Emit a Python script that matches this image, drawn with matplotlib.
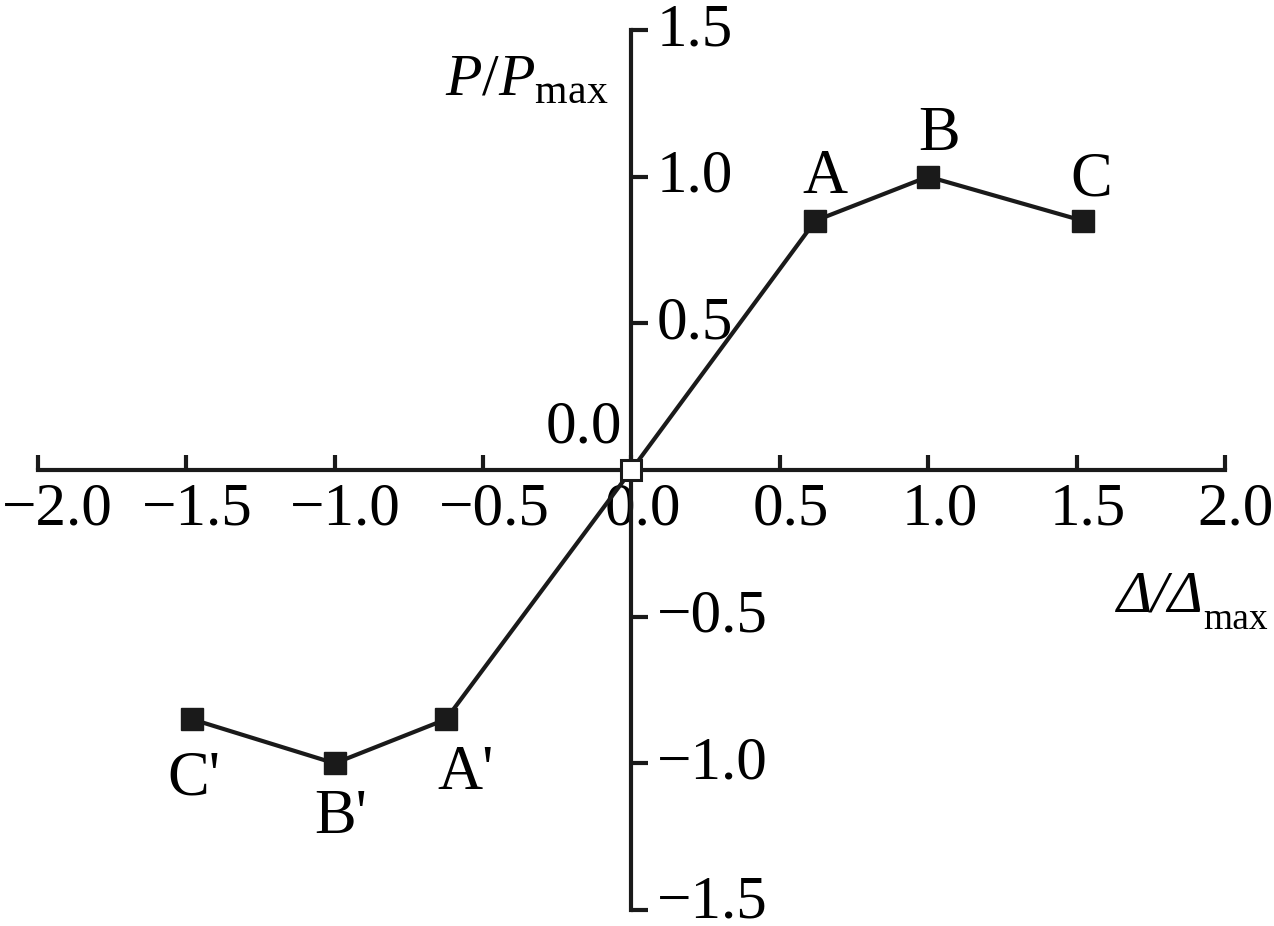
import matplotlib
matplotlib.use("Agg")
import matplotlib.pyplot as plt
from matplotlib.transforms import ScaledTranslation

plt.rcParams.update({
    "font.family": "serif", "font.serif": ["Liberation Serif", "DejaVu Serif"],
    "mathtext.fontset": "custom", "mathtext.rm": "Liberation Serif",
    "mathtext.it": "Liberation Serif:italic", "font.size": 44,
})

# normalised skeleton curve points (displacement, load)
disp = [-1.48, -1.0, -0.625, 0.0, 0.62, 1.0, 1.52]
load = [-0.85, -1.0, -0.85, 0.0, 0.85, 1.0, 0.85]
names = ["C'", "B'", "A'", "", "A", "B", "C"]
xticks = [-2.0, -1.5, -1.0, -0.5, 0.0, 0.5, 1.0, 1.5, 2.0]
yticks = [-1.5, -1.0, -0.5, 0.5, 1.0, 1.5]

# label nudges in points (x, baseline)
nudge = {"A": (7, 20), "B": (8, 19), "C": (6.5, 18),
         "C'": (1.5, -54), "B'": (4.3, -50), "A'": (14, -50)}

INK = "#1a1a1a"
fig = plt.figure(figsize=(12.74, 9.26), dpi=100)
ax = fig.add_axes([0.0298, 0.0173, 0.9317, 0.9503])
ax.set_xlim(-2.0, 2.0)
ax.set_ylim(-1.5, 1.5)

ax.plot(disp, load, color=INK, lw=3, zorder=3)
for x, y, n in zip(disp, load, names):
    if n == "":
        ax.plot(x, y, "s", ms=15, mfc="white", mec=INK, mew=2.2, zorder=4)
        continue
    ax.plot(x, y, "s", ms=16, color=INK, zorder=4)
    ax.annotate(n, (x, y), xytext=nudge[n], textcoords="offset points",
                ha="center", va="baseline", fontsize=45)

for s in ("top", "left"):
    ax.spines[s].set_visible(False)
ax.spines["bottom"].set_position(("data", 0))
ax.spines["right"].set_position(("data", 0))
for s in ("bottom", "right"):
    ax.spines[s].set_linewidth(3)
    ax.spines[s].set_color(INK)
ax.spines["right"].set_bounds(-1.5, 1.5)
ax.spines["bottom"].set_bounds(-2.0, 2.0)

ax.yaxis.set_ticks_position("right")
ax.set_xticks(xticks)
ax.set_xticklabels([f"{t:.1f}".replace("-", "\u2212") for t in xticks])
ax.set_yticks(yticks)
ax.set_yticklabels([f"{t:.1f}".replace("-", "\u2212") for t in yticks])
ax.tick_params(axis="x", direction="in", length=11, width=3, pad=9, labelsize=44, color=INK)
ax.tick_params(axis="y", direction="out", length=12, width=3, pad=6, labelsize=44, color=INK)
for i, lab in enumerate(ax.get_xticklabels()):
    dx = 14 if i == 0 else 8
    lab.set_transform(lab.get_transform() + ScaledTranslation(dx / 72, 0, fig.dpi_scale_trans))
for i, lab in enumerate(ax.get_yticklabels()):
    dy = 10 if i == 0 else 4.5
    lab.set_transform(lab.get_transform() + ScaledTranslation(0, dy / 72, fig.dpi_scale_trans))

ax.text(-0.03, 0.05, "0.0", ha="right", va="bottom", fontsize=44)

# axis titles
ax.text(-0.628, 1.279, r"$\mathit{P}/\mathit{P}_{\mathrm{max}}$", ha="left", va="baseline", fontsize=43)
t1 = ax.text(1.635, -0.484, "\u0394/\u0394", style="italic", ha="left", va="baseline", fontsize=43)
ax.annotate("max", xy=(1, 0), xycoords=t1, xytext=(0, -3), textcoords="offset points",
            ha="left", va="baseline", fontsize=27)

fig.savefig("out.png", dpi=100)
